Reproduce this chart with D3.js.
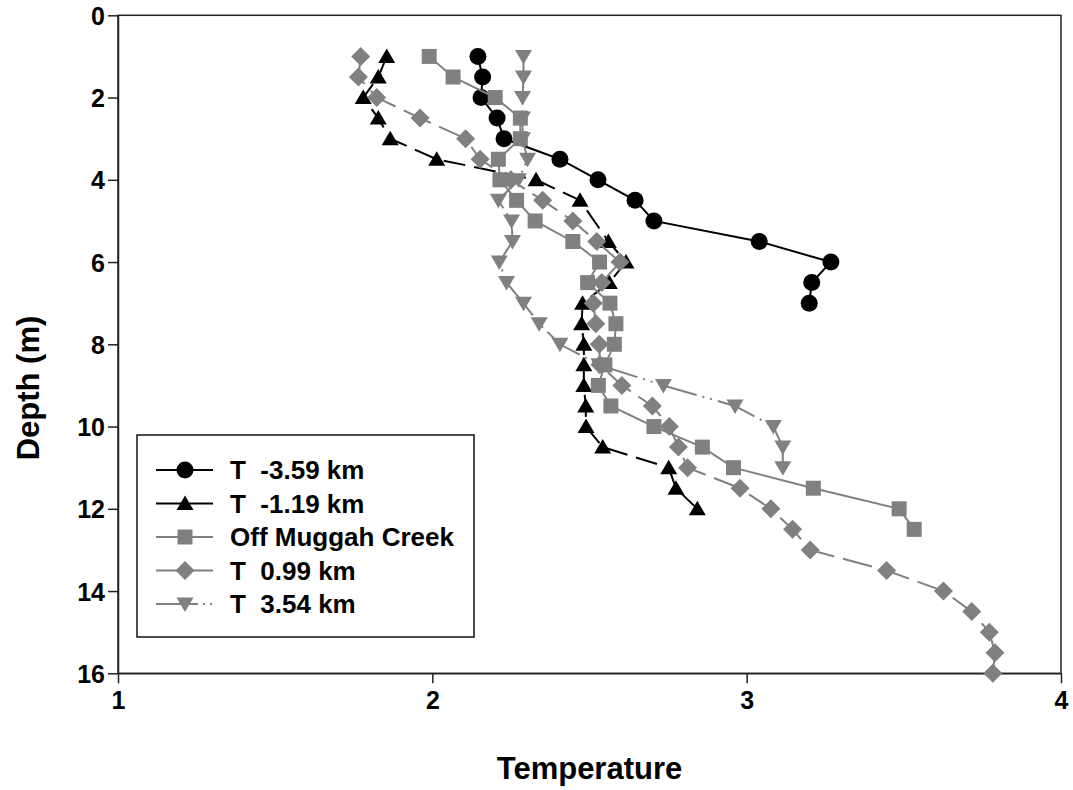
<!DOCTYPE html>
<html>
<head>
<meta charset="utf-8">
<script src="https://cdn.jsdelivr.net/npm/d3@7"></script>
<style>
  html, body { margin: 0; padding: 0; background: #fff; }
  svg text { font-family: Arial, "Liberation Sans", Helvetica, sans-serif; font-weight: bold; fill: #000; }
</style>
</head>
<body>
<svg id="chart" width="1073" height="790"></svg>
<script>
// Temperature profiles (depth in metres, temperature per station)
const seriesNames = ["T  -3.59 km", "T  -1.19 km", "Off Muggah Creek", "T  0.99 km", "T  3.54 km"];

const depthA = [1, 1.5, 2, 2.5, 3, 3.5, 4, 4.5, 5, 5.5, 6, 6.5, 7];
const tempA  = [2.145, 2.16, 2.155, 2.206, 2.228, 2.406, 2.527, 2.645, 2.705, 3.04, 3.268, 3.207, 3.199];

const depthB = [1, 1.5, 2, 2.5, 3, 3.5, 4, 4.5, 5.5, 6, 6.5, 7, 7.5, 8, 8.5, 9, 9.5, 10, 10.5, 11, 11.5, 12];
const tempB  = [1.855, 1.828, 1.78, 1.828, 1.866, 2.014, 2.33, 2.47, 2.56, 2.616, 2.563, 2.478, 2.475, 2.482, 2.482, 2.482, 2.488, 2.489, 2.542, 2.752, 2.775, 2.843];

const depthC = [1, 1.5, 2, 2.5, 3, 3.5, 4, 4.5, 5, 5.5, 6, 6.5, 7, 7.5, 8, 8.5, 9, 9.5, 10, 10.5, 11, 11.5, 12, 12.5];
const tempC  = [1.99, 2.066, 2.2, 2.28, 2.28, 2.21, 2.215, 2.268, 2.327, 2.447, 2.532, 2.494, 2.565, 2.584, 2.579, 2.549, 2.528, 2.568, 2.705, 2.859, 2.958, 3.212, 3.485, 3.533];

const depthD = [1, 1.5, 2, 2.5, 3, 3.5, 4, 4.5, 5, 5.5, 6, 6.5, 7, 7.5, 8, 8.5, 9, 9.5, 10, 10.5, 11, 11.5, 12, 12.5, 13, 13.5, 14, 14.5, 15, 15.5, 16];
const tempD  = [1.772, 1.765, 1.823, 1.961, 2.106, 2.152, 2.25, 2.351, 2.447, 2.523, 2.597, 2.539, 2.512, 2.52, 2.531, 2.533, 2.603, 2.7, 2.754, 2.783, 2.812, 2.979, 3.077, 3.146, 3.202, 3.445, 3.626, 3.716, 3.772, 3.79, 3.783];

const depthE = [1, 1.5, 2, 2.5, 3, 3.5, 4, 4.5, 5, 5.5, 6, 6.5, 7, 7.5, 8, 8.5, 9, 9.5, 10, 10.5, 11];
const tempE  = [2.29, 2.29, 2.287, 2.287, 2.287, 2.303, 2.274, 2.21, 2.252, 2.255, 2.213, 2.236, 2.29, 2.34, 2.406, 2.53, 2.735, 2.963, 3.085, 3.115, 3.115];

const xTicks = [1, 2, 3, 4];
const yTicks = [0, 2, 4, 6, 8, 10, 12, 14, 16];
const xTitle = "Temperature";
const yTitle = "Depth (m)";

// Drawing styles per series
const styles = [
  { color: "#000",    marker: "circle",  dash: null },
  { color: "#000",    marker: "triUp",   dash: "22,9" },
  { color: "#808080", marker: "square",  dash: null },
  { color: "#808080", marker: "diamond", dash: "30,9" },
  { color: "#808080", marker: "triDown", dash: "40,6,2,6,2,6" }
];

const seriesData = [
  d3.zip(tempA, depthA),
  d3.zip(tempB, depthB),
  d3.zip(tempC, depthC),
  d3.zip(tempD, depthD),
  d3.zip(tempE, depthE)
];

const svg = d3.select("#chart");
const plot = { left: 118, right: 1061, top: 15.3, bottom: 673.3 };

const x = d3.scaleLinear().domain([1, 4]).range([plot.left, plot.right]);
const y = d3.scaleLinear().domain([0, 16]).range([plot.top, plot.bottom]);

function markerPath(kind) {
  switch (kind) {
    case "circle":  return "M8.5,0A8.5,8.5 0 1,1 -8.5,0A8.5,8.5 0 1,1 8.5,0Z";
    case "triUp":   return "M0,-8L8.5,6.5L-8.5,6.5Z";
    case "triDown": return "M0,8L8.5,-6.5L-8.5,-6.5Z";
    case "square":  return "M-7.5,-7.5H7.5V7.5H-7.5Z";
    case "diamond": return "M0,-9.5L9.5,0L0,9.5L-9.5,0Z";
  }
}

// Frame
svg.append("rect")
  .attr("x", plot.left).attr("y", plot.top)
  .attr("width", plot.right - plot.left).attr("height", plot.bottom - plot.top)
  .attr("fill", "none").attr("stroke", "#222").attr("stroke-width", 1.5);

// Axes
const xAxis = d3.axisBottom(x).tickValues(xTicks).tickFormat(d3.format("d")).tickSizeInner(10).tickSizeOuter(0).tickPadding(8);
const yAxis = d3.axisLeft(y).tickValues(yTicks).tickFormat(d3.format("d")).tickSizeInner(10).tickSizeOuter(0).tickPadding(3);

const gx = svg.append("g").attr("transform", `translate(0,${plot.bottom})`).call(xAxis);
const gy = svg.append("g").attr("transform", `translate(${plot.left},0)`).call(yAxis);
[gx, gy].forEach(g => {
  g.select(".domain").attr("stroke", "#222").attr("stroke-width", 1.5);
  g.selectAll(".tick line").attr("stroke", "#222").attr("stroke-width", 1.5);
  g.selectAll(".tick text").attr("font-size", 25).attr("font-weight", "bold")
    .attr("font-family", "Arial, 'Liberation Sans', sans-serif").attr("fill", "#000");
});
gx.selectAll(".tick text").attr("dy", "0.71em");
gy.selectAll(".tick text").attr("dy", "0.36em");

// Axis titles
svg.append("text").attr("x", (plot.left + plot.right) / 2).attr("y", 779)
  .attr("text-anchor", "middle").attr("font-size", 31).text(xTitle);
svg.append("text").attr("transform", "translate(39,388) rotate(-90)")
  .attr("text-anchor", "middle").attr("font-size", 31).text(yTitle);

// Series lines and markers
const line = d3.line().x(d => x(d[0])).y(d => y(d[1]));
seriesData.forEach((data, i) => {
  const st = styles[i];
  const g = svg.append("g");
  g.append("path").datum(data).attr("d", line)
    .attr("fill", "none").attr("stroke", st.color).attr("stroke-width", 2)
    .attr("stroke-dasharray", st.dash);
  g.selectAll("path.pt").data(data).join("path").attr("class", "pt")
    .attr("d", markerPath(st.marker))
    .attr("transform", d => `translate(${x(d[0])},${y(d[1])})`)
    .attr("fill", st.color);
});

// Legend
const legend = svg.append("g");
legend.append("rect").attr("x", 137).attr("y", 435).attr("width", 337).attr("height", 202)
  .attr("fill", "#fff").attr("stroke", "#111").attr("stroke-width", 1.5);
const legendDash = [null, null, null, null, "42,5,2,5,2,5"];
seriesNames.forEach((name, i) => {
  const st = styles[i];
  const cy = 470 + i * 33.5;
  legend.append("line").attr("x1", 156).attr("x2", 213).attr("y1", cy).attr("y2", cy)
    .attr("stroke", st.color).attr("stroke-width", 2).attr("stroke-dasharray", legendDash[i]);
  legend.append("path").attr("d", markerPath(st.marker))
    .attr("transform", `translate(185,${cy})`).attr("fill", st.color);
  legend.append("text").attr("x", 230).attr("y", cy).attr("dy", "0.36em")
    .attr("font-size", 26).attr("xml:space", "preserve").style("white-space", "pre").text(name);
});
</script>
</body>
</html>
